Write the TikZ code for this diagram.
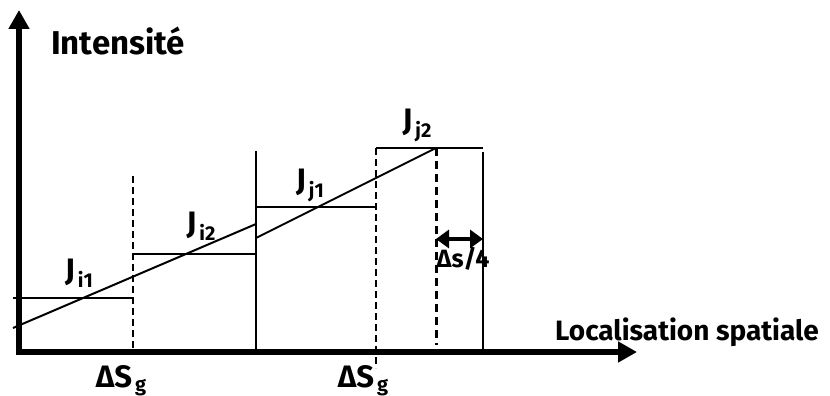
\documentclass[tikz,border=0pt]{standalone}
\usepackage{fontspec}
\setmainfont{Fira Sans}
\usetikzlibrary{arrows.meta}

% lowered, smaller subscript as in the drawing
\newcommand{\lowsub}[2][7pt]{\kern3pt\raisebox{-#1}{\fontsize{20}{20}\selectfont #2}}

\begin{document}
\begin{tikzpicture}[x=1pt, y=-1pt,
    axis/.style={line width=6pt, {Triangle[length=19pt,width=20pt]}-{Triangle[length=19pt,width=20pt]}},
    level/.style={line width=2pt},
    border/.style={line width=1.8pt, dash pattern=on 7pt off 4pt},
    mid/.style={line width=3pt, dash pattern=on 8pt off 5pt},
    lbl/.style={font=\bfseries\fontsize{31}{31}\selectfont, inner sep=0pt, anchor=base}]
    \useasboundingbox (0,0) rectangle (830,396);

    % Axes
    \coordinate (ytip) at (19,10);
    \coordinate (O) at (19,352);
    \coordinate (xtip) at (637,352);
    \draw[axis] (ytip) -- (O) -- (xtip);

    % Step levels
    \coordinate (a1) at (13,298);  \coordinate (a2) at (133,298);
    \coordinate (b1) at (133,254); \coordinate (b2) at (256,254);
    \coordinate (c1) at (256,207); \coordinate (c2) at (376,207);
    \coordinate (d1) at (376,148); \coordinate (d2) at (483,148);
    \draw[level] (a1) -- (a2);
    \draw[level] (b1) -- (b2);
    \draw[level] (c1) -- (c2);
    \draw[level] (d1) -- (d2);

    % Sloped profile, broken at the solid border
    \coordinate (s1) at (13,328);  \coordinate (s2) at (256,224);
    \coordinate (s3) at (256,238); \coordinate (s4) at (436,148);
    \draw[level] (s1) -- (s2);
    \draw[level] (s3) -- (s4);

    % Vertical borders
    \coordinate (g1t) at (133,176); \coordinate (g1b) at (133,352);
    \coordinate (v1t) at (256,151); \coordinate (v1b) at (256,352);
    \coordinate (g2t) at (376,148); \coordinate (g2b) at (376,368);
    \coordinate (mt) at (436,148);  \coordinate (mb) at (436,345);
    \coordinate (v2t) at (483,152); \coordinate (v2b) at (483,352);
    \draw[border] (g1t) -- (g1b);
    \draw[level] (v1t) -- (v1b);
    \draw[border] (g2t) -- (g2b);
    \draw[mid] (mt) -- (mb);
    \draw[level] (v2t) -- (v2b);

    % Quarter width arrow
    \coordinate (q1) at (436,239);
    \coordinate (q2) at (483,239);
    \draw[line width=4pt, {Triangle[length=13pt,width=18pt]}-{Triangle[length=13pt,width=18pt]}] (q1) -- (q2);

    % Labels
    \node[lbl, font=\bfseries\fontsize{33}{33}\selectfont] (yl) at (118,55) {Intensité};
    \node[lbl, font=\bfseries\fontsize{28}{28}\selectfont] (xl) at (687,340) {Localisation spatiale};
    \node[lbl] (ji1) at (79,280) {J\lowsub{i1}};
    \node[lbl] (ji2) at (201,233) {J\lowsub{i2}};
    \node[lbl] (jj1) at (310,190) {J\lowsub{j1}};
    \node[lbl] (jj2) at (417,130) {J\lowsub{j2}};
    \node[lbl] (sg1) at (121,387) {ΔS\lowsub[4pt]{g}};
    \node[lbl] (sg2) at (363,387) {ΔS\lowsub[4pt]{g}};
    \node[lbl, font=\bfseries\fontsize{25}{25}\selectfont] (qs) at (463,267) {Δs/4};
\end{tikzpicture}
\end{document}
